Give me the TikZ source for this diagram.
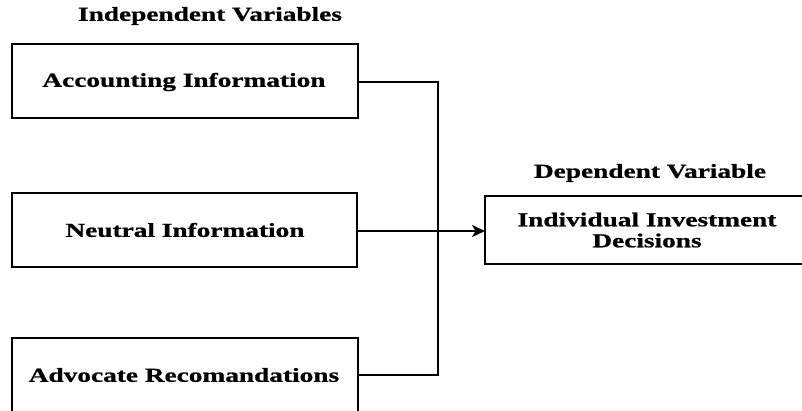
\documentclass[tikz,border=0pt]{standalone}
\usepackage{fontspec}
\newfontfamily\lblfont{Liberation Serif}[FakeStretch=1.38,FakeBold=0.8]
\usetikzlibrary{arrows.meta}
\begin{document}
\begin{tikzpicture}[x=1pt,y=-1pt,
  lbl/.style={font=\lblfont\bfseries\fontsize{19.8}{21}\selectfont, inner sep=0pt, align=center},
  varbox/.style={draw, line width=2.3pt, fill=white},
  conn/.style={line width=2pt},
]
\useasboundingbox (0,0) rectangle (802,410);
\begin{scope}
\clip (0,0) rectangle (802,410);
% boxes
\draw[varbox] (12,44) rectangle (358,118);
\draw[varbox] (12,193) rectangle (357,267);
\draw[varbox] (12,338) rectangle (358,412);
\draw[varbox] (485,196) rectangle (809,264);
\end{scope}
\coordinate (aR) at (358,82);
\coordinate (nR) at (357,231);
\coordinate (vR) at (358,375);
\coordinate (dL) at (485,231);
\coordinate (tTop) at (438,82);
\coordinate (tBot) at (438,375);
\node[lbl] (t1) at (210,16) {Independent Variables};
\node[lbl] (t2) at (650,173) {Dependent Variable};
\node[lbl] (a) at (184,82) {Accounting Information};
\node[lbl] (n) at (185,230) {Neutral Information};
\node[lbl] (v) at (184,375) {Advocate Recomandations};
\node[lbl] (d) at (647,230) {Individual Investment\\Decisions};
\draw[conn] (aR) -- (tTop) -- (tBot) -- (vR);
\draw[conn, -{Stealth[length=13pt,width=12pt,inset=3.5pt]}] (nR) -- (dL);
\end{tikzpicture}
\end{document}
